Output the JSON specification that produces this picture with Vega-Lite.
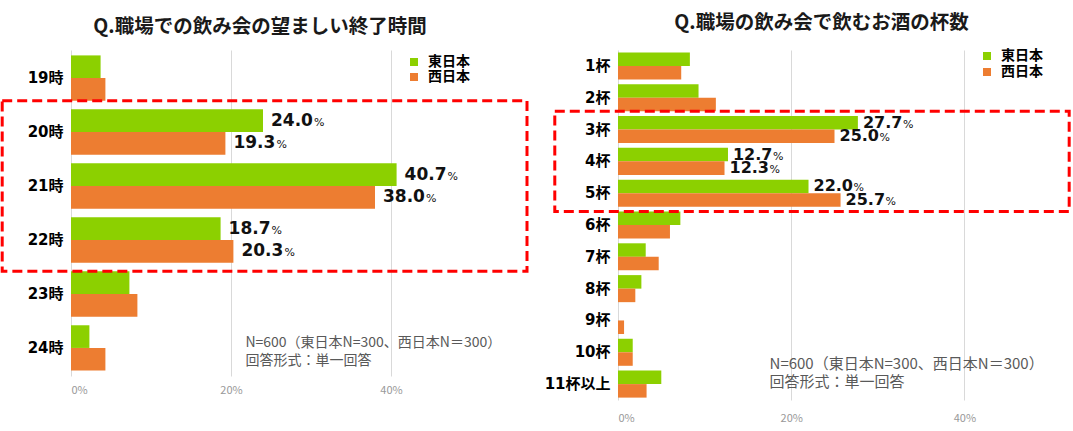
{
  "$schema": "https://vega.github.io/schema/vega-lite/v6.json",
  "background": "white",
  "padding": {"left": 0, "top": 12, "right": 0, "bottom": 0},
  "spacing": 15,
  "config": {
    "font": "Noto Sans CJK JP",
    "view": {"stroke": null},
    "axis": {"domain": false, "ticks": false, "grid": false},
    "axisY": {"labelFontSize": 15, "labelFontWeight": "bold", "labelColor": "#000000", "labelPadding": 8, "labelFont": "'DejaVu Sans', 'Noto Sans CJK JP', sans-serif"},
    "axisX": {"grid": true, "gridColor": "#D9D9D9", "gridWidth": 1, "labelColor": "#999999", "labelFontSize": 11, "labelPadding": 8, "labelFont": "'Noto Sans CJK JP', sans-serif"},
    "title": {"fontSize": 19.5, "fontWeight": "bold", "font": "'Noto Sans CJK JP', sans-serif", "color": "#1a1a1a", "anchor": "middle", "frame": "group", "offset": 16},
    "legend": {"symbolType": "square", "symbolSize": 64, "labelFontSize": 14, "labelFontWeight": "bold", "labelColor": "#000000", "labelFont": "'Noto Sans CJK JP', sans-serif", "labelOffset": 7, "rowPadding": 1, "padding": 0, "symbolStrokeWidth": 0}
  },
  "resolve": {"legend": {"color": "independent"}, "scale": {"color": "independent", "x": "independent", "y": "independent", "yOffset": "independent"}},
  "hconcat": [
    {
      "title": {"text": "Q.職場での飲み会の望ましい終了時間", "dx": -31, "dy": 3},
      "width": 440,
      "height": 326,
      "data": {"values": [
        {"cat": "19時", "region": "東日本", "value": 3.7, "hl": false},
        {"cat": "19時", "region": "西日本", "value": 4.3, "hl": false},
        {"cat": "20時", "region": "東日本", "value": 24.0, "hl": true},
        {"cat": "20時", "region": "西日本", "value": 19.3, "hl": true},
        {"cat": "21時", "region": "東日本", "value": 40.7, "hl": true},
        {"cat": "21時", "region": "西日本", "value": 38.0, "hl": true},
        {"cat": "22時", "region": "東日本", "value": 18.7, "hl": true},
        {"cat": "22時", "region": "西日本", "value": 20.3, "hl": true},
        {"cat": "23時", "region": "東日本", "value": 7.3, "hl": false},
        {"cat": "23時", "region": "西日本", "value": 8.3, "hl": false},
        {"cat": "24時", "region": "東日本", "value": 2.3, "hl": false},
        {"cat": "24時", "region": "西日本", "value": 4.3, "hl": false}
      ]},
      "layer": [
        {
          "mark": {"type": "bar"},
          "encoding": {
            "y": {"field": "cat", "type": "nominal", "title": null, "sort": null,
                  "scale": {"domain": ["19時", "20時", "21時", "22時", "23時", "24時"], "paddingInner": 0.16, "paddingOuter": 0.1}},
            "yOffset": {"field": "region", "type": "nominal", "scale": {"domain": ["東日本", "西日本"]}},
            "x": {"field": "value", "type": "quantitative", "title": null,
                  "scale": {"domain": [0, 55], "nice": false},
                  "axis": {"values": [0, 20, 40], "labelExpr": "datum.value + '%'"}},
            "color": {"field": "region", "type": "nominal",
                      "scale": {"domain": ["東日本", "西日本"], "range": ["#8CD000", "#ED7D31"]},
                      "legend": {"title": null, "orient": "none", "legendX": 336, "legendY": 5}}
          }
        },
        {
          "transform": [{"filter": "datum.hl"}],
          "mark": {"type": "text", "align": "left", "baseline": "middle", "dx": 8, "fontSize": 17, "fontWeight": "bold", "font": "'DejaVu Sans', sans-serif", "color": "#111111"},
          "encoding": {
            "y": {"field": "cat", "type": "nominal", "title": null},
            "yOffset": {"field": "region", "type": "nominal"},
            "x": {"field": "value", "type": "quantitative", "title": null},
            "text": {"field": "value", "type": "quantitative", "format": ".1f"}
          }
        },
        {
          "transform": [{"filter": "datum.hl"}],
          "mark": {"type": "text", "align": "left", "baseline": "middle", "dx": 51, "dy": 2, "fontSize": 11, "font": "'DejaVu Sans', sans-serif", "color": "#111111", "text": "%"},
          "encoding": {
            "y": {"field": "cat", "type": "nominal", "title": null},
            "yOffset": {"field": "region", "type": "nominal"},
            "x": {"field": "value", "type": "quantitative", "title": null}
          }
        },
        {
          "data": {"values": [{"from": "19時", "to": "23時", "x1": -8.6, "x2": 57}]},
          "mark": {"type": "rect", "fill": null, "stroke": "#FF0000", "strokeWidth": 3, "strokeDash": [10, 5]},
          "encoding": {
            "y": {"field": "from", "type": "nominal", "title": null, "bandPosition": 1},
            "y2": {"field": "to", "bandPosition": 0},
            "x": {"field": "x1", "type": "quantitative", "title": null},
            "x2": {"field": "x2"}
          }
        },
        {
          "data": {"values": [{"cat": "24時", "pos": 21.8}]},
          "mark": {"type": "text", "align": "left", "baseline": "middle", "fontSize": 14, "lineHeight": 18, "dy": -5, "color": "#595959", "font": "'Noto Sans CJK JP', sans-serif",
                   "text": ["N=600（東日本N=300、西日本N＝300）", "回答形式：単一回答"]},
          "encoding": {
            "y": {"field": "cat", "type": "nominal", "title": null},
            "x": {"field": "pos", "type": "quantitative", "title": null}
          }
        }
      ]
    },
    {
      "title": {"text": "Q.職場の飲み会で飲むお酒の杯数", "dx": -13},
      "width": 433,
      "height": 350,
      "data": {"values": [
        {"cat": "1杯", "region": "東日本", "value": 8.3, "hl": false},
        {"cat": "1杯", "region": "西日本", "value": 7.3, "hl": false},
        {"cat": "2杯", "region": "東日本", "value": 9.3, "hl": false},
        {"cat": "2杯", "region": "西日本", "value": 11.3, "hl": false},
        {"cat": "3杯", "region": "東日本", "value": 27.7, "hl": true},
        {"cat": "3杯", "region": "西日本", "value": 25.0, "hl": true},
        {"cat": "4杯", "region": "東日本", "value": 12.7, "hl": true},
        {"cat": "4杯", "region": "西日本", "value": 12.3, "hl": true},
        {"cat": "5杯", "region": "東日本", "value": 22.0, "hl": true},
        {"cat": "5杯", "region": "西日本", "value": 25.7, "hl": true},
        {"cat": "6杯", "region": "東日本", "value": 7.2, "hl": false},
        {"cat": "6杯", "region": "西日本", "value": 6.0, "hl": false},
        {"cat": "7杯", "region": "東日本", "value": 3.2, "hl": false},
        {"cat": "7杯", "region": "西日本", "value": 4.7, "hl": false},
        {"cat": "8杯", "region": "東日本", "value": 2.7, "hl": false},
        {"cat": "8杯", "region": "西日本", "value": 2.0, "hl": false},
        {"cat": "9杯", "region": "東日本", "value": 0.0, "hl": false},
        {"cat": "9杯", "region": "西日本", "value": 0.7, "hl": false},
        {"cat": "10杯", "region": "東日本", "value": 1.7, "hl": false},
        {"cat": "10杯", "region": "西日本", "value": 1.7, "hl": false},
        {"cat": "11杯以上", "region": "東日本", "value": 5.0, "hl": false},
        {"cat": "11杯以上", "region": "西日本", "value": 3.3, "hl": false}
      ]},
      "layer": [
        {
          "mark": {"type": "bar"},
          "encoding": {
            "y": {"field": "cat", "type": "nominal", "title": null, "sort": null,
                  "scale": {"domain": ["1杯", "2杯", "3杯", "4杯", "5杯", "6杯", "7杯", "8杯", "9杯", "10杯", "11杯以上"], "paddingInner": 0.15, "paddingOuter": 0.075}},
            "yOffset": {"field": "region", "type": "nominal", "scale": {"domain": ["東日本", "西日本"]}},
            "x": {"field": "value", "type": "quantitative", "title": null,
                  "scale": {"domain": [0, 50], "nice": false},
                  "axis": {"values": [0, 20, 40], "labelExpr": "datum.value + '%'", "labelPadding": 12}},
            "color": {"field": "region", "type": "nominal",
                      "scale": {"domain": ["東日本", "西日本"], "range": ["#8CD000", "#ED7D31"]},
                      "legend": {"title": null, "orient": "none", "legendX": 362, "legendY": -1, "rowPadding": 2}}
          }
        },
        {
          "transform": [{"filter": "datum.hl"}],
          "mark": {"type": "text", "align": "left", "baseline": "middle", "dx": 5, "fontSize": 16, "fontWeight": "bold", "font": "'DejaVu Sans', sans-serif", "color": "#111111"},
          "encoding": {
            "y": {"field": "cat", "type": "nominal", "title": null},
            "yOffset": {"field": "region", "type": "nominal"},
            "x": {"field": "value", "type": "quantitative", "title": null},
            "dy": {"field": "region", "type": "nominal", "scale": {"domain": ["東日本", "西日本"], "range": [-1, 2]}, "legend": null},
            "text": {"field": "value", "type": "quantitative", "format": ".1f"}
          }
        },
        {
          "transform": [{"filter": "datum.hl"}],
          "mark": {"type": "text", "align": "left", "baseline": "middle", "dx": 45, "dy": 2, "fontSize": 11, "font": "'DejaVu Sans', sans-serif", "color": "#111111", "text": "%"},
          "encoding": {
            "y": {"field": "cat", "type": "nominal", "title": null},
            "yOffset": {"field": "region", "type": "nominal"},
            "x": {"field": "value", "type": "quantitative", "title": null}
          }
        },
        {
          "data": {"values": [{"from": "2杯", "to": "6杯", "x1": -7.3, "x2": 52.1}]},
          "mark": {"type": "rect", "fill": null, "stroke": "#FF0000", "strokeWidth": 3, "strokeDash": [10, 5]},
          "encoding": {
            "y": {"field": "from", "type": "nominal", "title": null, "bandPosition": 1},
            "y2": {"field": "to", "bandPosition": 0},
            "x": {"field": "x1", "type": "quantitative", "title": null},
            "x2": {"field": "x2"}
          }
        },
        {
          "data": {"values": [{"cat": "11杯以上", "pos": 17.5}]},
          "mark": {"type": "text", "align": "left", "baseline": "middle", "fontSize": 15, "lineHeight": 18, "dy": -20, "color": "#595959", "font": "'Noto Sans CJK JP', sans-serif",
                   "text": ["N=600（東日本N=300、西日本N＝300）", "回答形式：単一回答"]},
          "encoding": {
            "y": {"field": "cat", "type": "nominal", "title": null},
            "x": {"field": "pos", "type": "quantitative", "title": null}
          }
        }
      ]
    }
  ]
}
